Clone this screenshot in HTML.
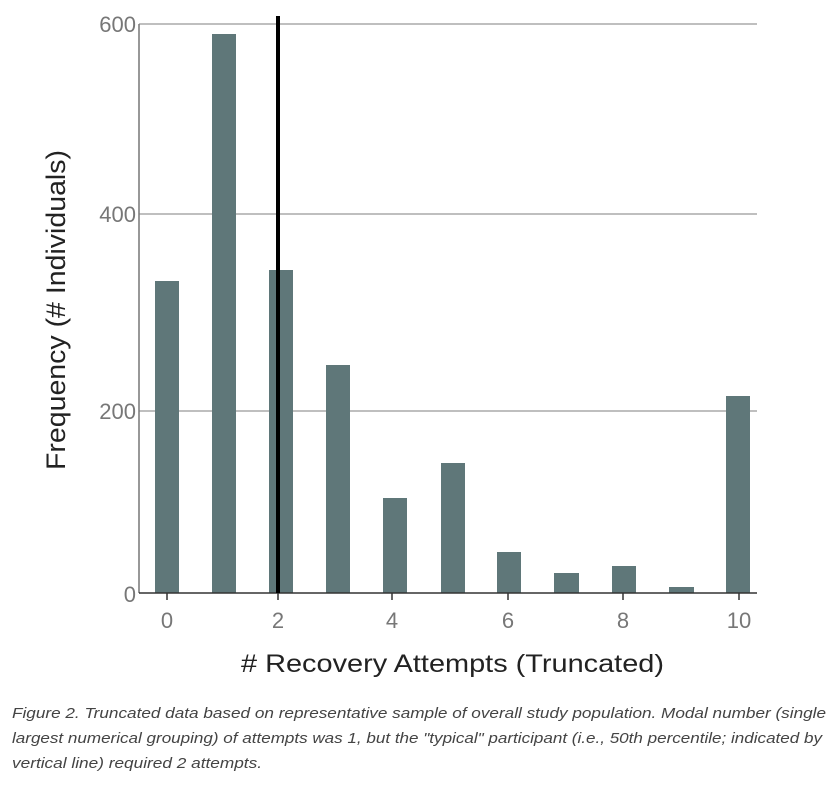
<!DOCTYPE html>
<html><head><style>
body{margin:0;background:#fff;width:835px;height:782px;overflow:hidden}
</style></head><body>
<svg width="835" height="782" xmlns="http://www.w3.org/2000/svg" font-family="Liberation Sans, sans-serif">
<g stroke="#aaa" stroke-width="1.5">
<line x1="139" y1="24" x2="757" y2="24"/>
<line x1="139" y1="214" x2="757" y2="214"/>
<line x1="139" y1="411" x2="757" y2="411"/>
</g>
<g fill="#5f7779">
<rect x="155" y="281" width="24" height="312"/>
<rect x="212" y="34" width="24" height="559"/>
<rect x="269" y="270" width="24" height="323"/>
<rect x="326" y="365" width="24" height="228"/>
<rect x="383" y="498" width="24" height="95"/>
<rect x="441" y="463" width="24" height="130"/>
<rect x="497" y="552" width="24" height="41"/>
<rect x="554" y="573" width="25" height="20"/>
<rect x="612" y="566" width="24" height="27"/>
<rect x="669" y="587" width="25" height="6"/>
<rect x="726" y="396" width="24" height="197"/>
</g>
<line x1="139" y1="24" x2="139" y2="593" stroke="#777" stroke-width="1.5"/>
<line x1="139" y1="593" x2="757" y2="593" stroke="#333" stroke-width="1.5"/>
<g stroke="#333" stroke-width="1.5">
<line x1="167" y1="593" x2="167" y2="600"/>
<line x1="278" y1="593" x2="278" y2="600"/>
<line x1="392" y1="593" x2="392" y2="600"/>
<line x1="508" y1="593" x2="508" y2="600"/>
<line x1="623" y1="593" x2="623" y2="600"/>
<line x1="739" y1="593" x2="739" y2="600"/>
</g>
<line x1="278" y1="16" x2="278" y2="593" stroke="#000" stroke-width="4"/>
<g fill="#777" font-size="22" text-anchor="end">
<text x="136" y="32">600</text>
<text x="136" y="222">400</text>
<text x="136" y="419">200</text>
<text x="136" y="602">0</text>
</g>
<g fill="#777" font-size="22" text-anchor="middle">
<text x="167" y="628">0</text>
<text x="278" y="628">2</text>
<text x="392" y="628">4</text>
<text x="508" y="628">6</text>
<text x="623" y="628">8</text>
<text x="739" y="628">10</text>
</g>
<text x="241" y="672" font-size="25" textLength="423" lengthAdjust="spacingAndGlyphs" fill="#222">&#35; Recovery Attempts (Truncated)</text>
<text transform="translate(65,470) rotate(-90)" font-size="27" textLength="320" lengthAdjust="spacingAndGlyphs" fill="#222">Frequency (&#35; Individuals)</text>
<g font-size="15" font-style="italic" fill="#444" lengthAdjust="spacingAndGlyphs">
<text x="12" y="718" textLength="814" lengthAdjust="spacingAndGlyphs">Figure 2. Truncated data based on representative sample of overall study population. Modal number (single</text>
<text x="12" y="743" textLength="810" lengthAdjust="spacingAndGlyphs">largest numerical grouping) of attempts was 1, but the "typical" participant (i.e., 50th percentile; indicated by</text>
<text x="12" y="768" textLength="250" lengthAdjust="spacingAndGlyphs">vertical line) required 2 attempts.</text>
</g>
</svg>
</body></html>
